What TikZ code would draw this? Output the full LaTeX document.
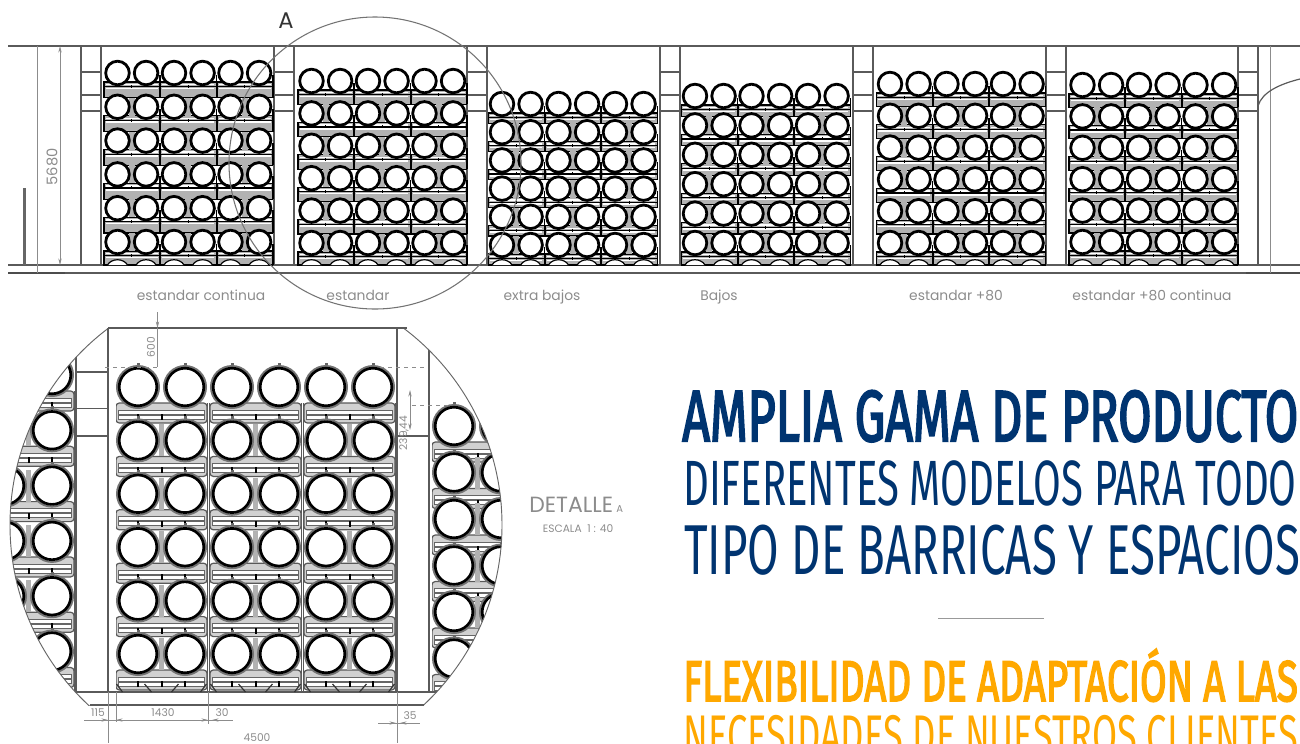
\documentclass[tikz,border=0pt]{standalone}
\usepackage{fontspec}
\usepackage{graphicx}
\usetikzlibrary{arrows.meta}
\newfontfamily\titlefont{Fira Sans}
\newfontfamily\titleheavy[FakeBold=3.2]{Fira Sans}
\newfontfamily\drawfont{Poppins}
\definecolor{navy}{HTML}{003470}
\definecolor{gold}{HTML}{FFA800}
\definecolor{dimgray}{HTML}{8C8C8C}
\definecolor{wallgray}{HTML}{5A5A5A}

\tikzset{
  wall/.style={draw=wallgray, line width=0.9pt},
  thinwall/.style={draw=black!45, line width=0.6pt},
  dimline/.style={draw=dimgray, line width=0.5pt},
  dimtip/.style={draw=dimgray, line width=0.5pt, -{Stealth[length=5pt,width=2.5pt]}},
  dimarrow/.style={draw=dimgray, line width=0.5pt, {Stealth[length=5pt,width=2.5pt]}-{Stealth[length=5pt,width=2.5pt]}},
  barrel/.style={draw=black, fill=white, line width=2.1pt},
  pallet/.style={draw=black, fill=black!30, line width=0.9pt},
  detailbarrel/.style={draw=black, fill=white, line width=2pt},
  detailring/.style={draw=black!55, fill=white, line width=1.5pt},
  detailpallet/.style={draw=black!65, fill=black!18, line width=0.9pt, rounded corners=2.5pt},
  strip/.style={fill=white, draw=black!60, line width=0.5pt},
  lbl/.style={text=dimgray, font=\drawfont\fontsize{10.4}{12}\selectfont, inner sep=0pt},
  baylbl/.style={lbl, anchor=base},
  dimlbl/.style={text=dimgray, font=\drawfont\fontsize{8}{10}\selectfont, inner sep=0pt},
  titleline/.style={anchor=base west, inner sep=0pt}
}

% stretch a line of text to a given width
\newsavebox\linebox
\newcommand{\fitline}[2]{\sbox\linebox{#2}\pgfmathsetmacro\fitratio{#1/\wd\linebox}\scalebox{\fitratio}[1]{\usebox\linebox}}

% overview bay: first barrel x, first row y, row pitch
\newcommand{\rackbay}[3]{
  \foreach \i in {0,...,5}{
    \pgfmathsetmacro\yrow{#2+\i*#3}
    \pgfmathsetmacro\ypal{\i==5 ? 265 : \yrow+#3-9}
    \foreach \r in {0,1,2}{
      \pgfmathsetmacro\xrack{#1+14.3+\r*56.5}
      \path[pallet] (\xrack-27.8,\yrow+9) rectangle (\xrack+27.8,\ypal);
      \draw[white, line width=1.1pt] (\xrack-26,\yrow+11.6) -- (\xrack+26,\yrow+11.6);
      \draw[black, line width=0.9pt] (\xrack-27.8,\yrow+13.5) -- (\xrack+27.8,\yrow+13.5);
      \draw[white, line width=1.1pt] (\xrack-26,\yrow+15.4) -- (\xrack+26,\yrow+15.4);
      \draw[black, line width=0.9pt] (\xrack,\yrow+12) -- (\xrack,\yrow+15);
      \ifnum\i>0
        \fill[black!30] (\xrack-3,\yrow-9) rectangle (\xrack+3,\yrow+9);
      \fi
      \draw[black, line width=1.4pt] (\xrack+28.2,\yrow+2) -- (\xrack+28.2,\ypal);
      \foreach \s in {-1,1}{
        \path[barrel] (\xrack+\s*14.3,\yrow) circle (11.8);
      }
    }
  }
  \foreach \b in {0,1,2,3,4,5}{
    \pgfmathsetmacro\xfoot{#1+\b*14.3+floor(\b/2)*27.9+mod(\b,2)*14.3}
    \path[draw=black, fill=white, line width=0.9pt] (\xfoot-10,265) .. controls (\xfoot-6,258) and (\xfoot+6,258) .. (\xfoot+10,265);
  }
}

% detail racks: rack centres, first row y, row pitch
\newcommand{\rackdetail}[3]{
  \foreach \c in {#1}{
    \draw[black!65, line width=1.4pt] (\c-46,#2+16) -- (\c-46,692);
    \draw[black!65, line width=1.4pt] (\c+46,#2+16) -- (\c+46,692);
    \foreach \i in {0,...,5}{
      \pgfmathsetmacro\yrow{#2+\i*#3}
      \path[detailpallet] (\c-45.5,\yrow+16) rectangle (\c+45.5,\yrow+36);
      \path[strip] (\c-43,\yrow+23) rectangle (\c+43,\yrow+27);
      \path[strip] (\c-43,\yrow+28) rectangle (\c+43,\yrow+32);
      \foreach \t in {-23.5,0,23.5}{
        \fill[black] (\c+\t-1,\yrow+27) rectangle (\c+\t+1,\yrow+33);
      }
      \ifnum\i>0
        \fill[black!30] (\c-2.5,\yrow-16) rectangle (\c+2.5,\yrow+16);
      \fi
      \foreach \s in {-1,1}{
        \fill[black!60] (\c+\s*23.5-1.5,\yrow-24) rectangle (\c+\s*23.5+1.5,\yrow-20);
        \path[detailring] (\c+\s*23.5,\yrow) circle (21);
        \path[detailbarrel] (\c+\s*23.5,\yrow) circle (18.8);
      }
    }
  }
}

\begin{document}
\begin{tikzpicture}[x=0.75pt, y=-0.75pt]

  \useasboundingbox (0,0) rectangle (1300,743);

  % Walls of the overview
  \draw[wall] (8,46) -- (1300,46);
  \draw[wall] (8,265) -- (1300,265);
  \draw[wall] (8,273) -- (1300,273);
  \draw[black!70, line width=1.4pt] (8,273) -- (65,273);
  \draw[black!70, line width=1.4pt] (1246,273) -- (1300,273);
  \draw[thinwall] (37,46) -- (37,273);
  \draw[thinwall] (1270,46) -- (1270,273);
  \fill[black!60] (23,188) rectangle (25.5,265);

  % Pillars
  \foreach \x in {81,274,467,660,853,1046,1238}{
    \draw[wall] (\x,46) -- (\x,265);
    \draw[wall] (\x+20,46) -- (\x+20,265);
    \draw[wall] (\x,72) -- (\x+20,72);
    \draw[wall] (\x,95) -- (\x+20,95);
    \draw[wall] (\x,111) -- (\x+20,111);
  }
  \draw[wall] (1258,106) .. controls (1262,92) and (1280,84) .. (1300,79);

  % Bays
  \rackbay{117.5}{73}{33.8}
  \rackbay{311.5}{81}{32.4}
  \rackbay{502}{104}{28.2}
  \rackbay{695}{96}{29.4}
  \rackbay{890}{84}{31.8}
  \rackbay{1082.5}{85}{31.4}

  % Height dimension
  \draw[dimarrow] (60,46) -- (60,265);
  \node[lbl, rotate=90, font=\drawfont\fontsize{11}{12}\selectfont] (heightlbl) at (52,167) {5680};

  % Detail mark
  \draw[black!55, line width=0.8pt] (375,163) circle (146);
  \node[lbl, text=black!80, font=\drawfont\fontsize{17}{20}\selectfont] (marka) at (286,21) {A};

  % Bay labels
  \node[baylbl] (baya) at (201,300) {estandar continua};
  \node[baylbl] (bayb) at (358,300) {estandar};
  \node[baylbl] (bayc) at (542,300) {extra bajos};
  \node[baylbl] (bayd) at (719,300) {Bajos};
  \node[baylbl] (baye) at (956,300) {estandar +80};
  \node[baylbl] (bayf) at (1152,300) {estandar +80 continua};

  % Detail view, cut by the circle
  \begin{scope}
    \clip (256,525) circle (246);
    \clip (0,328) rectangle (1300,705);
    \rackdetail{161.5,255.5,349.5}{387}{53.4}
    \rackdetail{28.5}{375}{55.3}
    \rackdetail{477.5}{426}{46.5}
    \fill[white] (76,328) rectangle (116,692);
    \fill[white] (396,328) rectangle (432,692);
    \fill[white] (0,692) rectangle (520,705);
    \fill[white] (0,328) rectangle (520,355);
    \draw[wall] (76,340) -- (76,692);
    \draw[wall] (429,340) -- (429,692);
    \draw[wall] (76,372) -- (108,372);
    \draw[wall] (76,408.5) -- (108,408.5);
    \draw[wall] (76,436) -- (108,436);
    \draw[wall] (397,436) -- (429,436);
    \draw[wall] (0,692) -- (520,692);
    % feet of the centre racks
    \foreach \c in {161.5,255.5,349.5}{
      \draw[black!80, line width=0.9pt] (\c-17,684) -- (\c-10,692);
      \draw[black!80, line width=0.9pt] (\c+17,684) -- (\c+10,692);
      \draw[black!80, line width=0.9pt] (\c-45,684) -- (\c-39,692);
      \draw[black!80, line width=0.9pt] (\c+45,684) -- (\c+39,692);
    }
  \end{scope}
  \begin{scope}
    \clip (0,328) rectangle (1300,705);
    \draw[black!60, line width=0.7pt] (256,525) circle (246);
  \end{scope}
  \draw[wall] (108,328) -- (407,328);
  \draw[wall] (90,705) -- (424,705);
  \draw[wall] (108,328) -- (108,692);
  \draw[wall] (397,328) -- (397,692);

  % Dimensions of the detail
  \draw[dimline] (108,692) -- (108,743);
  \draw[dimline] (116,692) -- (116,722);
  \draw[dimline] (208,692) -- (208,724);
  \draw[dimline] (397,692) -- (397,743);
  \draw[dimtip] (157.5,312) -- (157.5,328);
  \draw[dimline] (157.5,328) -- (157.5,367);
  \draw[dimline, dashed] (105,367) -- (158,367);
  \draw[dimline, dashed] (380,367) -- (425,367);
  \draw[dimline, dashed] (412,405) -- (450,405);
  \draw[dimarrow] (410,390) -- (410,430);
  \draw[dimline] (84,720) -- (233,720);
  \draw[dimline] (378,723) -- (420,723);
  \draw[dimtip] (98,720) -- (108,720);
  \draw[dimtip] (126,720) -- (116,720);
  \draw[dimtip] (198,720) -- (208,720);
  \draw[dimtip] (222,720) -- (212,720);
  \draw[dimtip] (386,723) -- (396,723);
  \draw[dimtip] (410,723) -- (400,723);
  \node[dimlbl, rotate=90] (dimsix) at (151,347) {600};
  \node[dimlbl, rotate=90] (dimgap) at (404,433) {239,44};
  \node[dimlbl] (dimone) at (98,713) {115};
  \node[dimlbl] (dimtwo) at (163,713) {1430};
  \node[dimlbl] (dimthree) at (222,713) {30};
  \node[dimlbl] (dimfour) at (410,716) {35};
  \node[dimlbl] (dimfive) at (257,738) {4500};

  % Caption of the detail
  \node[lbl, anchor=base west, font=\drawfont\fontsize{16.5}{18}\selectfont] (detcap) at (529,512) {DETALLE};
  \node[lbl, anchor=base west, font=\drawfont\fontsize{7.5}{9}\selectfont] (detcapa) at (616,512) {A};
  \node[lbl, font=\drawfont\fontsize{8}{10}\selectfont] (detscale) at (578,529) {ESCALA\ \ 1 : 40};

  % Titles
  \node[titleline, text=navy] (titlea) at (682,441) {\fitline{462pt}{\titleheavy\fontsize{54}{60}\selectfont AMPLIA GAMA DE PRODUCTO}};
  \node[titleline, text=navy] (titleb) at (683,505) {\fitline{460pt}{\titlefont\fontsize{48}{54}\selectfont DIFERENTES MODELOS PARA TODO}};
  \node[titleline, text=navy] (titlec) at (684,574) {\fitline{462pt}{\titlefont\fontsize{53}{60}\selectfont TIPO DE BARRICAS Y ESPACIOS}};
  \draw[black!40, line width=0.7pt] (938,618.5) -- (1044,618.5);
  \node[titleline, text=gold] (titled) at (683,701) {\fitline{461pt}{\titleheavy\fontsize{43}{50}\selectfont FLEXIBILIDAD DE ADAPTACIÓN A LAS}};
  \node[titleline, text=gold] (titlee) at (683,755) {\fitline{461pt}{\titlefont\fontsize{43}{50}\selectfont NECESIDADES DE NUESTROS CLIENTES}};

\end{tikzpicture}
\end{document}
